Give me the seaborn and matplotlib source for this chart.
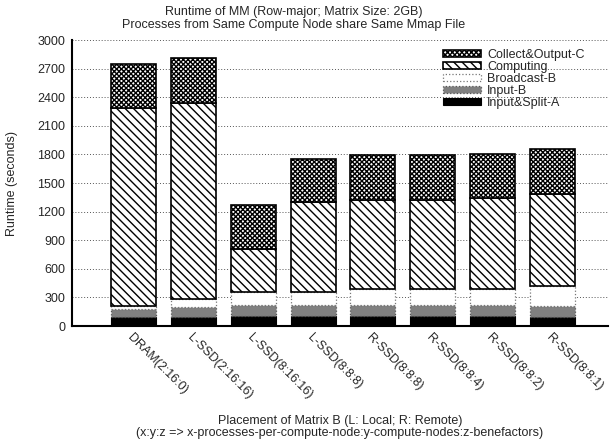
import numpy as np
import pandas as pd
import matplotlib
matplotlib.use("Agg")
import matplotlib.pyplot as plt
import seaborn as sns

categories = ["DRAM(2:16:0)", "L-SSD(2:16:16)", "L-SSD(8:16:16)", "L-SSD(8:8:8)",
              "R-SSD(8:8:8)", "R-SSD(8:8:4)", "R-SSD(8:8:2)", "R-SSD(8:8:1)"]
input_split_a = [97, 97, 108, 108, 108, 108, 108, 97]
input_b = [84, 105, 109, 109, 109, 109, 109, 113]
broadcast_b = [29, 81, 136, 136, 168, 168, 171, 210]
computing = [2080, 2060, 451, 944, 937, 937, 955, 965]
collect_output_c = [455, 465, 462, 451, 472, 472, 458, 468]
series_names = ["Input&Split-A", "Input-B", "Broadcast-B", "Computing", "Collect&Output-C"]
yticks = list(range(0, 3001, 300))

sns.set_theme(style="white")
plt.rcParams['font.family'] = ['Liberation Sans', 'DejaVu Sans']
plt.rcParams['font.size'] = 9
plt.rcParams['hatch.linewidth'] = 1.0

df = pd.DataFrame({
    "cat": categories,
    "A": input_split_a, "B": input_b, "BC": broadcast_b,
    "C": computing, "CO": collect_output_c,
})
vals = df[["A", "B", "BC", "C", "CO"]].values
cum = np.cumsum(vals, axis=1)
bottoms = np.hstack([np.zeros((len(categories), 1)), cum[:, :-1]])

fig = plt.figure(figsize=(6.13, 4.44), dpi=100)
ax = fig.add_axes([72/613, 1-326/444, 536/613, 286/444])

styles = [
    dict(color="black", edgecolor="black", linewidth=0.8),                              # A
    dict(color="#808080", edgecolor="#555555", linewidth=0.9, linestyle=":"),         # B
    dict(color="white", edgecolor="#777777", linewidth=0.9, linestyle=":"),           # Broadcast
    dict(color="white", edgecolor="black", linewidth=1.2, hatch="\\\\\\\\"),          # Computing
    dict(color="white", edgecolor="black", linewidth=1.2, hatch="xxxxxxx"),           # Collect
]

handles = {}
for i in range(5):
    n_before = len(ax.patches)
    sns.barplot(x=df["cat"], y=vals[:, i], ax=ax, order=categories, width=0.75,
                saturation=1, bottom=bottoms[:, i], **styles[i])
    new = ax.patches[n_before:]
    handles[i] = new[0]

ax.set_xlim(-1.02, 7.92)
ax.set_ylim(0, 3000)
ax.set_yticks(yticks)
ax.set_yticklabels([str(t) for t in yticks])
ax.set_axisbelow(True)
ax.yaxis.grid(True, linestyle=(0, (1, 2)), color="#555555", linewidth=0.7)
ax.xaxis.grid(False)
for s in ["top", "right"]:
    ax.spines[s].set_visible(False)
for s in ["left", "bottom"]:
    ax.spines[s].set_color("black")
    ax.spines[s].set_linewidth(1.5)
ax.tick_params(axis="y", direction="in", length=4, width=0.8, color="black", pad=5, labelsize=9)
ax.tick_params(axis="x", length=0, pad=4, labelsize=9)
ax.set_xticks(range(len(categories)))
ax.set_xticklabels(categories, rotation=-45, ha="left", va="top", rotation_mode="anchor")
ax.set_xlabel("")
ax.set_ylabel("")

leg_handles = [handles[i] for i in range(4, -1, -1)]
leg_labels = [series_names[i] for i in range(4, -1, -1)]
ax.legend(leg_handles, leg_labels, loc="upper left",
          bbox_to_anchor=(443/613, 1-49/444), bbox_transform=fig.transFigure,
          frameon=False, borderpad=0, borderaxespad=0, handlelength=3.0,
          handleheight=0.5, handletextpad=0.55, labelspacing=0.0, fontsize=9)

fig.text(294/613, 1-18.5/444, "Runtime of MM (Row-major; Matrix Size: 2GB)\nProcesses from Same Compute Node share Same Mmap File",
         ha="center", va="center", fontsize=9, linespacing=1.05)
fig.text(340/613, 1-427/444, "Placement of Matrix B (L: Local; R: Remote)\n(x:y:z => x-processes-per-compute-node:y-compute-nodes:z-benefactors)",
         ha="center", va="center", fontsize=9, linespacing=1.05)
fig.text(12/613, 1-183/444, "Runtime (seconds)", ha="center", va="center", rotation=90, fontsize=9)

fig.savefig("out.png", dpi=100)
